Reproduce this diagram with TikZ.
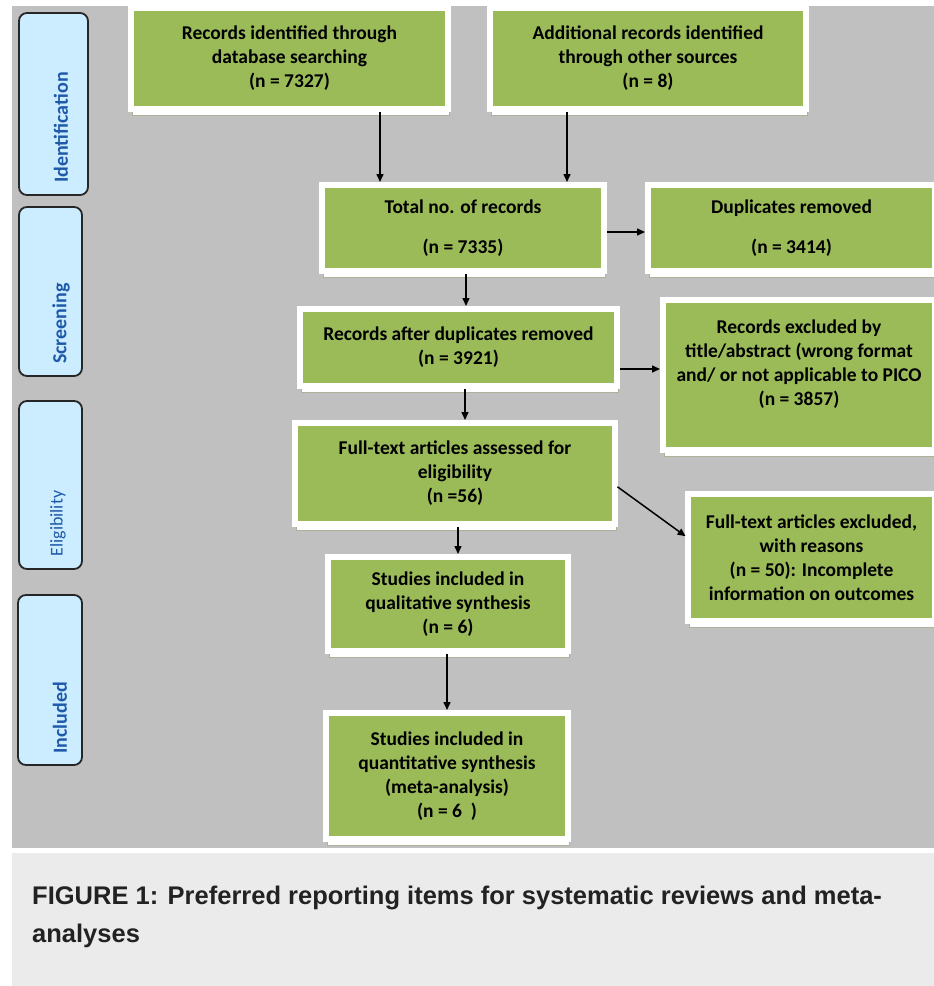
\documentclass[tikz,border=0pt]{standalone}
\usepackage{fontspec}
\setmainfont{Carlito}
\newfontfamily\capfont{Liberation Sans}
\usetikzlibrary{arrows.meta,shadows}
\definecolor{bggray}{HTML}{C0C0C0}
\definecolor{boxgreen}{HTML}{9BBB59}
\definecolor{railblue}{HTML}{CCECFF}
\definecolor{labelblue}{HTML}{1F5AAA}
\definecolor{capbg}{HTML}{EBEBEB}
\definecolor{shadowline}{HTML}{A8B39A}
\definecolor{captext}{HTML}{222222}
\begin{document}
\begin{tikzpicture}[x=1pt,y=-1pt,
  gbox/.style={fill=boxgreen, draw=white, line width=6pt, align=center,
    font=\fontsize{19.5}{24}\selectfont\bfseries, text=black, inner sep=0pt, outer sep=0pt,
    general shadow={shadow xshift=1pt, shadow yshift=-6pt, fill=white, draw=shadowline, line width=0.8pt}},
  rail/.style={fill=railblue, draw=black!85, line width=1.8pt, rounded corners=8pt, inner sep=0pt},
  rlabel/.style={rotate=90, text=labelblue, inner sep=0pt, font=\fontsize{20}{24}\selectfont\bfseries},
  arr/.style={-{Triangle[length=8pt,width=7pt]}, line width=1.5pt, black, shorten <=3pt, shorten >=3pt}
]
\useasboundingbox (0,0) rectangle (934,986);
\fill[white] (0,0) rectangle (934,986);
\fill[bggray] (12,6) rectangle (934,848);
\fill[capbg] (12,853) rectangle (934,986);

% phase rails
\node[rail, minimum width=69, minimum height=182] (r1) at (53.5,104) {};
\node[rail, minimum width=63, minimum height=169] (r2) at (50.5,291.5) {};
\node[rail, minimum width=63, minimum height=168] (r3) at (50.5,485) {};
\node[rail, minimum width=64, minimum height=170] (r4) at (50,680) {};
\node[rlabel] (l1) at (61,127.5) {Identification};
\node[rlabel] (l2) at (61,323.5) {Screening};
\node[rlabel, font=\fontsize{18}{22}\selectfont] (l3) at (58,523.5) {Eligibility};
\node[rlabel] (l4) at (60,718) {Included};

% boxes
\node[gbox, minimum width=317, minimum height=101] (b1) at (289.5,58.5) {Records identified through\\database searching\\(n = 7327)};
\node[gbox, minimum width=316, minimum height=101] (b2) at (648,58.5) {Additional records identified\\through other sources\\(n = 8)};
\node[gbox, minimum width=282, minimum height=86] (b3) at (463,228) {Total no. of records\\[16pt](n = 7335)};
\node[gbox, minimum width=287, minimum height=86] (b4) at (791.5,228) {Duplicates removed\\[16pt](n = 3414)};
\node[gbox, minimum width=317, minimum height=77] (b5) at (458.5,347.5) {Records after duplicates removed\\(n = 3921)};
\node[gbox, minimum width=272, minimum height=150] (b6) at (799,375) {Records excluded by\\title/abstract (wrong format\\and/ or not applicable to PICO\\(n = 3857)\\\mbox{}};
\node[gbox, minimum width=320, minimum height=101] (b7) at (455,473.5) {Full-text articles assessed for\\eligibility\\(n =56)};
\node[gbox, minimum width=247, minimum height=127] (b8) at (811.5,557.5) {Full-text articles excluded,\\with reasons\\(n = 50): Incomplete\\information on outcomes};
\node[gbox, minimum width=240, minimum height=94] (b9) at (448,604) {Studies included in\\qualitative synthesis\\(n = 6)};
\node[gbox, minimum width=242, minimum height=126] (b10) at (447,776) {Studies included in\\quantitative synthesis\\(meta-analysis)\\(n = 6\ \ )};

% connectors
\coordinate (ax1) at (380,0);
\coordinate (ax2) at (567,0);
\coordinate (ax3) at (466,0);
\coordinate (ax4) at (465,0);
\coordinate (ax5) at (458,0);
\coordinate (ax6) at (447,0);
\coordinate (ay1) at (0,232);
\coordinate (ay2) at (0,369);
\coordinate (d1) at (0,485);
\coordinate (d2) at (0,538);
\draw[arr] (b1.south -| ax1) -- (b3.north -| ax1);
\draw[arr] (b2.south -| ax2) -- (b3.north -| ax2);
\draw[arr] (b3.east |- ay1) -- (b4.west |- ay1);
\draw[arr] (b3.south -| ax3) -- (b5.north -| ax3);
\draw[arr] (b5.east |- ay2) -- (b6.west |- ay2);
\draw[arr] (b5.south -| ax4) -- (b7.north -| ax4);
\draw[arr] (b7.east |- d1) -- (b8.west |- d2);
\draw[arr] (b7.south -| ax5) -- (b9.north -| ax5);
\draw[arr] (b9.south -| ax6) -- (b10.north -| ax6);

% caption
\node[anchor=base west, inner sep=0pt, text=captext, font=\capfont\bfseries\fontsize{25.5}{38}\selectfont] (c1) at (32,904) {FIGURE 1: Preferred reporting items for systematic reviews and meta-};
\node[anchor=base west, inner sep=0pt, text=captext, font=\capfont\bfseries\fontsize{25.5}{38}\selectfont] (c2) at (32,942) {analyses};
\end{tikzpicture}
\end{document}
